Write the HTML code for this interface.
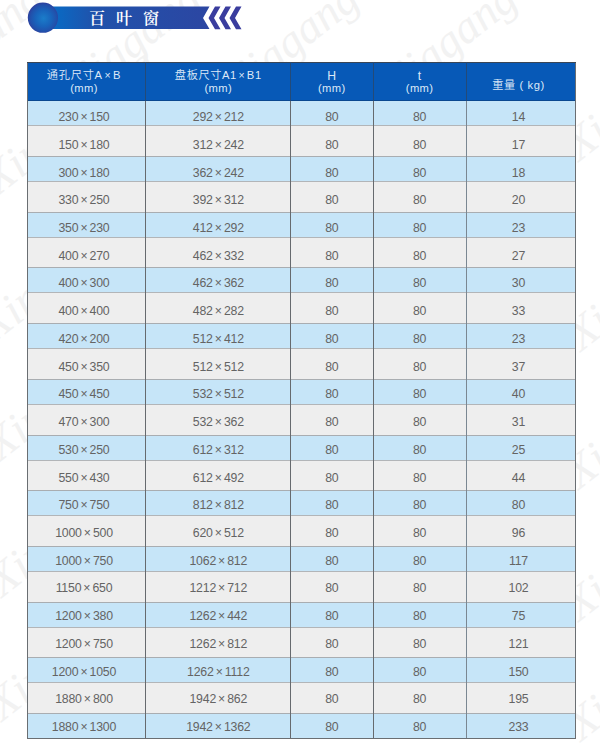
<!DOCTYPE html>
<html><head><meta charset="utf-8">
<style>
html,body{margin:0;padding:0;background:#fff;}
body{width:600px;height:747px;overflow:hidden;position:relative;font-family:"Liberation Sans","Noto Sans CJK SC",sans-serif;}
#hdr{position:absolute;left:0;top:0;}
#tbg{position:absolute;left:27px;top:62px;width:549px;height:677px;background:#eeeeee;}
.bb{position:absolute;left:27px;width:549px;background:#c6e5f8;border-top:1px solid #a9adb1;border-bottom:1px solid #b2b5b8;box-sizing:border-box;}
#th{position:absolute;left:27px;top:62px;width:549px;height:38.6px;background:#0759b7;border-bottom:1px solid #0a4890;box-sizing:border-box;}
.hvl{position:absolute;top:62px;height:38.6px;width:1px;background:#234a78;}
#tb2{position:absolute;left:27px;top:62px;width:549px;height:1px;background:#3a4656;}
#tb{position:absolute;left:27px;top:62px;width:549px;height:677px;box-sizing:border-box;border:1px solid #6a6e72;}
.vl{position:absolute;top:62px;height:677px;width:1px;background:#666a6e;}
.r{position:absolute;left:0;width:600px;height:20px;line-height:20px;font-size:12.3px;color:#646464;}
.r span{position:absolute;top:0;width:100px;text-align:center;white-space:nowrap;letter-spacing:-0.2px;}
.r i{font-style:normal;font-size:12.3px;margin:0 2.2px 0 2px;}
.h{position:absolute;color:#dde9f7;font-weight:350;font-size:11.2px;letter-spacing:0.35px;text-align:center;line-height:15px;width:140px;white-space:nowrap;}
.h i{font-style:normal;font-size:10.5px;margin:0 1.6px;}
</style></head><body>
<svg id="wm" width="600" height="747" style="position:absolute;left:0;top:0" font-family="Liberation Serif,serif" font-style="italic" font-size="46" fill="#f2f2f2">
<text text-anchor="end" transform="translate(362,4) rotate(-38)">Xinjiagang</text>
<text text-anchor="end" transform="translate(520,4) rotate(-38)">Xinjiagang</text>
<text text-anchor="end" transform="translate(204,4) rotate(-38)">Xinjiagang</text>
<text text-anchor="end" transform="translate(46,4) rotate(-38)">Xinjiagang</text>
<text transform="translate(-2,196) rotate(-38)">Xinjiagang</text>
<text transform="translate(-6,343) rotate(-38)">Xinjiagang</text>
<text transform="translate(0,462) rotate(-38)">Xinjiagang</text>
<text transform="translate(2,598) rotate(-38)">Xinjiagang</text>
<text transform="translate(2,722) rotate(-38)">Xinjiagang</text>
<text transform="translate(579,162) rotate(-38)">Xinjiagang</text>
<text transform="translate(581,352) rotate(-38)">Xinjiagang</text>
<text transform="translate(579,490) rotate(-38)">Xinjiagang</text>
<text transform="translate(579,622) rotate(-38)">Xinjiagang</text>
<text transform="translate(581,742) rotate(-38)">Xinjiagang</text>
</svg>

<svg id="hdr" width="260" height="40" viewBox="0 0 260 40">
<defs>
<linearGradient id="bar" gradientUnits="userSpaceOnUse" x1="45" x2="210" y1="0" y2="0">
<stop offset="0" stop-color="#0a6bc3"/>
<stop offset="0.1" stop-color="#0d66c0"/>
<stop offset="0.3" stop-color="#2052ab"/>
<stop offset="1" stop-color="#2c46a2"/>
</linearGradient>
<radialGradient id="ball" cx="0.52" cy="0.52" r="0.5">
<stop offset="0" stop-color="#1b7dca"/>
<stop offset="0.55" stop-color="#1963bb"/>
<stop offset="0.88" stop-color="#2250ab"/>
<stop offset="1" stop-color="#2b43a0"/>
</radialGradient>
</defs>
<path d="M45 6.6 H209.5 L203 17.9 L209.5 29.1 H45 Z" fill="url(#bar)"/>
<circle cx="42.9" cy="17.7" r="15.1" fill="url(#ball)"/>
<path d="M215 6.6 H220.5 L214 17.9 L220.5 29.2 H215 L208.5 17.9 Z" fill="#3a3d9e"/>
<path d="M225.5 6.6 H231 L224.5 17.9 L231 29.2 H225.5 L219 17.9 Z" fill="#3a3d9e"/>
<path d="M236 6.6 H241.5 L235 17.9 L241.5 29.2 H236 L229.5 17.9 Z" fill="#3a3d9e"/>
<text x="89" y="24.1" fill="#fff" font-family="Liberation Serif,Noto Serif CJK SC,serif" font-weight="600" font-size="16.2" letter-spacing="10.8">百叶窗</text>
</svg>
<div id="tbg"></div>
<div class="bb" style="top:100px;height:26px;border-top-color:#d2eefc"></div>
<div class="bb" style="top:156px;height:26px"></div>
<div class="bb" style="top:212px;height:26px"></div>
<div class="bb" style="top:267px;height:26px"></div>
<div class="bb" style="top:323px;height:26px"></div>
<div class="bb" style="top:379px;height:26px"></div>
<div class="bb" style="top:435px;height:26px"></div>
<div class="bb" style="top:490px;height:26px"></div>
<div class="bb" style="top:546px;height:26px"></div>
<div class="bb" style="top:602px;height:26px"></div>
<div class="bb" style="top:657px;height:26px"></div>
<div class="bb" style="top:713px;height:26px"></div>
<div id="th"></div>
<div class="vl" style="left:145px"></div>
<div class="vl" style="left:290px"></div>
<div class="vl" style="left:373px"></div>
<div class="vl" style="left:465.5px;background:#7a8792"></div>
<div id="tb"></div>
<div id="tb2"></div>
<div class="hvl" style="left:145px"></div>
<div class="hvl" style="left:290px"></div>
<div class="hvl" style="left:373px"></div>
<div class="hvl" style="left:465.5px"></div>
<div class="h" style="left:14px;top:67.8px;letter-spacing:0.75px">通孔尺寸A<i>×</i>B</div>
<div class="h" style="left:14px;top:81px">(mm)</div>
<div class="h" style="left:148.3px;top:67.8px;letter-spacing:0.6px">盘板尺寸A1<i>×</i>B1</div>
<div class="h" style="left:148.3px;top:81px">(mm)</div>
<div class="h" style="left:261.8px;top:68.5px;font-size:12.2px">H</div>
<div class="h" style="left:261.8px;top:81px">(mm)</div>
<div class="h" style="left:349.6px;top:68.5px;font-size:12.2px">t</div>
<div class="h" style="left:349.6px;top:81px">(mm)</div>
<div class="h" style="left:448.5px;top:78px;letter-spacing:0.6px">重量 ( kg)</div>
<div class="r" style="top:107.04px"><span style="left:34.00px">230<i>×</i>150</span><span style="left:168.30px">292<i>×</i>212</span><span style="left:281.80px">80</span><span style="left:369.60px">80</span><span style="left:468.50px">14</span></div>
<div class="r" style="top:134.77px"><span style="left:34.00px">150<i>×</i>180</span><span style="left:168.30px">312<i>×</i>242</span><span style="left:281.80px">80</span><span style="left:369.60px">80</span><span style="left:468.50px">17</span></div>
<div class="r" style="top:162.50px"><span style="left:34.00px">300<i>×</i>180</span><span style="left:168.30px">362<i>×</i>242</span><span style="left:281.80px">80</span><span style="left:369.60px">80</span><span style="left:468.50px">18</span></div>
<div class="r" style="top:190.23px"><span style="left:34.00px">330<i>×</i>250</span><span style="left:168.30px">392<i>×</i>312</span><span style="left:281.80px">80</span><span style="left:369.60px">80</span><span style="left:468.50px">20</span></div>
<div class="r" style="top:217.96px"><span style="left:34.00px">350<i>×</i>230</span><span style="left:168.30px">412<i>×</i>292</span><span style="left:281.80px">80</span><span style="left:369.60px">80</span><span style="left:468.50px">23</span></div>
<div class="r" style="top:245.69px"><span style="left:34.00px">400<i>×</i>270</span><span style="left:168.30px">462<i>×</i>332</span><span style="left:281.80px">80</span><span style="left:369.60px">80</span><span style="left:468.50px">27</span></div>
<div class="r" style="top:273.42px"><span style="left:34.00px">400<i>×</i>300</span><span style="left:168.30px">462<i>×</i>362</span><span style="left:281.80px">80</span><span style="left:369.60px">80</span><span style="left:468.50px">30</span></div>
<div class="r" style="top:301.15px"><span style="left:34.00px">400<i>×</i>400</span><span style="left:168.30px">482<i>×</i>282</span><span style="left:281.80px">80</span><span style="left:369.60px">80</span><span style="left:468.50px">33</span></div>
<div class="r" style="top:328.88px"><span style="left:34.00px">420<i>×</i>200</span><span style="left:168.30px">512<i>×</i>412</span><span style="left:281.80px">80</span><span style="left:369.60px">80</span><span style="left:468.50px">23</span></div>
<div class="r" style="top:356.61px"><span style="left:34.00px">450<i>×</i>350</span><span style="left:168.30px">512<i>×</i>512</span><span style="left:281.80px">80</span><span style="left:369.60px">80</span><span style="left:468.50px">37</span></div>
<div class="r" style="top:384.34px"><span style="left:34.00px">450<i>×</i>450</span><span style="left:168.30px">532<i>×</i>512</span><span style="left:281.80px">80</span><span style="left:369.60px">80</span><span style="left:468.50px">40</span></div>
<div class="r" style="top:412.07px"><span style="left:34.00px">470<i>×</i>300</span><span style="left:168.30px">532<i>×</i>362</span><span style="left:281.80px">80</span><span style="left:369.60px">80</span><span style="left:468.50px">31</span></div>
<div class="r" style="top:439.80px"><span style="left:34.00px">530<i>×</i>250</span><span style="left:168.30px">612<i>×</i>312</span><span style="left:281.80px">80</span><span style="left:369.60px">80</span><span style="left:468.50px">25</span></div>
<div class="r" style="top:467.53px"><span style="left:34.00px">550<i>×</i>430</span><span style="left:168.30px">612<i>×</i>492</span><span style="left:281.80px">80</span><span style="left:369.60px">80</span><span style="left:468.50px">44</span></div>
<div class="r" style="top:495.26px"><span style="left:34.00px">750<i>×</i>750</span><span style="left:168.30px">812<i>×</i>812</span><span style="left:281.80px">80</span><span style="left:369.60px">80</span><span style="left:468.50px">80</span></div>
<div class="r" style="top:522.99px"><span style="left:34.00px">1000<i>×</i>500</span><span style="left:168.30px">620<i>×</i>512</span><span style="left:281.80px">80</span><span style="left:369.60px">80</span><span style="left:468.50px">96</span></div>
<div class="r" style="top:550.72px"><span style="left:34.00px">1000<i>×</i>750</span><span style="left:168.30px">1062<i>×</i>812</span><span style="left:281.80px">80</span><span style="left:369.60px">80</span><span style="left:468.50px">117</span></div>
<div class="r" style="top:578.45px"><span style="left:34.00px">1150<i>×</i>650</span><span style="left:168.30px">1212<i>×</i>712</span><span style="left:281.80px">80</span><span style="left:369.60px">80</span><span style="left:468.50px">102</span></div>
<div class="r" style="top:606.18px"><span style="left:34.00px">1200<i>×</i>380</span><span style="left:168.30px">1262<i>×</i>442</span><span style="left:281.80px">80</span><span style="left:369.60px">80</span><span style="left:468.50px">75</span></div>
<div class="r" style="top:633.91px"><span style="left:34.00px">1200<i>×</i>750</span><span style="left:168.30px">1262<i>×</i>812</span><span style="left:281.80px">80</span><span style="left:369.60px">80</span><span style="left:468.50px">121</span></div>
<div class="r" style="top:661.64px"><span style="left:34.00px">1200<i>×</i>1050</span><span style="left:168.30px">1262<i>×</i>1112</span><span style="left:281.80px">80</span><span style="left:369.60px">80</span><span style="left:468.50px">150</span></div>
<div class="r" style="top:689.37px"><span style="left:34.00px">1880<i>×</i>800</span><span style="left:168.30px">1942<i>×</i>862</span><span style="left:281.80px">80</span><span style="left:369.60px">80</span><span style="left:468.50px">195</span></div>
<div class="r" style="top:717.10px"><span style="left:34.00px">1880<i>×</i>1300</span><span style="left:168.30px">1942<i>×</i>1362</span><span style="left:281.80px">80</span><span style="left:369.60px">80</span><span style="left:468.50px">233</span></div>
</body></html>
